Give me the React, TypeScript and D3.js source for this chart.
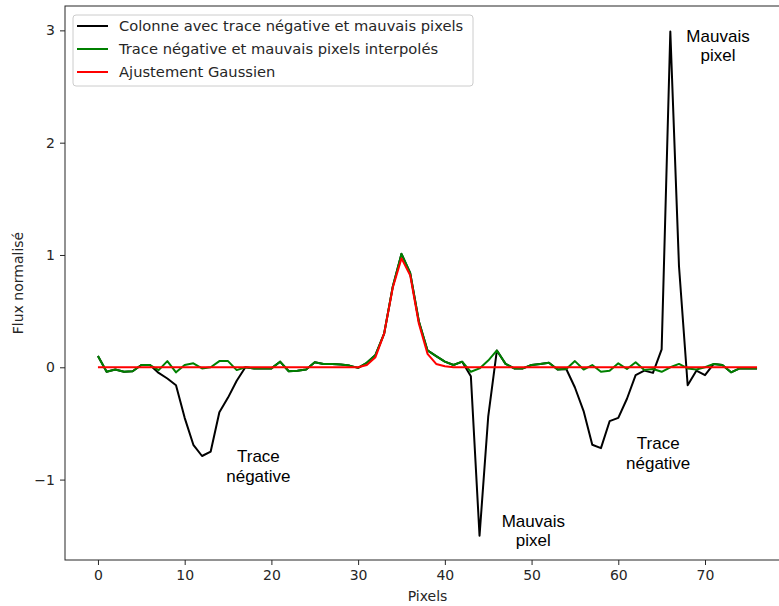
import * as d3 from "d3";
import { useEffect, useRef } from "react";

// pixel index along the column
const pixels = d3.range(0, 77);

// raw column: negative traces and bad pixels
const rawFlux = [
    0.10, -0.04, -0.02, -0.04, -0.035, 0.02, 0.02, -0.05, -0.10, -0.16,
    -0.45, -0.69, -0.79, -0.75, -0.40, -0.27, -0.12, 0.0, -0.01, -0.01,
    -0.01, 0.05, -0.035, -0.03, -0.02, 0.045, 0.03, 0.03, 0.025, 0.015,
    -0.005, 0.04, 0.11, 0.30, 0.72, 1.01, 0.84, 0.41, 0.15, 0.10,
    0.05, 0.02, 0.05, -0.08, -1.50, -0.44, 0.15, 0.03, -0.01, -0.01,
    0.02, 0.03, 0.04, -0.02, -0.015, -0.18, -0.39, -0.69, -0.72, -0.48,
    -0.45, -0.28, -0.07, -0.03, -0.05, 0.16, 2.99, 0.90, -0.16, -0.03,
    -0.07, 0.03, 0.02, -0.045, -0.01, -0.01, -0.01,
];

// interpolated column
const cleanFlux = [
    0.10, -0.04, -0.02, -0.04, -0.035, 0.02, 0.02, -0.025, 0.055, -0.045,
    0.02, 0.035, -0.01, 0.0, 0.055, 0.055, -0.025, 0.0, -0.01, -0.01,
    -0.01, 0.05, -0.035, -0.03, -0.02, 0.045, 0.03, 0.03, 0.025, 0.015,
    -0.005, 0.04, 0.11, 0.30, 0.72, 1.01, 0.84, 0.41, 0.15, 0.10,
    0.05, 0.02, 0.05, -0.04, -0.01, 0.06, 0.15, 0.03, -0.01, -0.01,
    0.02, 0.03, 0.04, -0.02, -0.015, 0.055, -0.02, 0.02, -0.04, -0.03,
    0.035, -0.015, 0.045, -0.025, -0.015, -0.04, 0.0, 0.03, -0.01, -0.02,
    0.0, 0.03, 0.02, -0.045, -0.01, -0.01, -0.01,
];

// gaussian fit
const fitFlux = [
    0, 0, 0, 0, 0, 0, 0, 0, 0, 0,
    0, 0, 0, 0, 0, 0, 0, 0, 0, 0,
    0, 0, 0, 0, 0, 0, 0, 0, 0, 0,
    0.0, 0.02, 0.09, 0.30, 0.71, 0.97, 0.82, 0.39, 0.12, 0.03,
    0.01, 0, 0, 0, 0, 0, 0, 0, 0, 0,
    0, 0, 0, 0, 0, 0, 0, 0, 0, 0,
    0, 0, 0, 0, 0, 0, 0, 0, 0, 0,
    0, 0, 0, 0, 0, 0, 0,
];

const seriesLabels = [
    "Colonne avec trace négative et mauvais pixels",
    "Trace négative et mauvais pixels interpolés",
    "Ajustement Gaussien",
];
const seriesColors = ["#000000", "#008000", "#ff0000"];

const xTicks = [0, 10, 20, 30, 40, 50, 60, 70];
const yTicks = [-1, 0, 1, 2, 3];

// annotation texts, placed in data units (centre x, first baseline y)
const notes = [
    { lines: ["Trace", "négative"], x: 18.5, y: -0.845 },
    { lines: ["Mauvais", "pixel"], x: 50.2, y: -1.418 },
    { lines: ["Trace", "négative"], x: 64.6, y: -0.73 },
    { lines: ["Mauvais", "pixel"], x: 71.5, y: 2.9 },
];

export default function App() {
    const svgRef = useRef<SVGSVGElement | null>(null);

    useEffect(() => {
        if (!svgRef.current) return;
        const svg = d3.select(svgRef.current);
        svg.selectAll("*").remove();

        const totalW = 779;
        const totalH = 606;
        const left = 65, right = 790, top = 6, bottom = 560;
        const font = "DejaVu Sans, sans-serif";
        const ink = "#262626";

        const xScale = d3.scaleLinear().domain([-3.8, 79.8]).range([left, right]);
        const yScale = d3.scaleLinear().domain([-1.716, 3.217]).range([bottom, top]);

        svg.attr("width", totalW).attr("height", totalH);

        const line = d3
            .line<number>()
            .x((d, i) => xScale(pixels[i]))
            .y((d) => yScale(d));

        [rawFlux, cleanFlux, fitFlux].forEach((s, k) => {
            svg.append("path")
                .datum(s)
                .attr("fill", "none")
                .attr("stroke", seriesColors[k])
                .attr("stroke-width", 2)
                .attr("stroke-linejoin", "round")
                .attr("d", line);
        });

        // frame
        svg.append("rect")
            .attr("x", left)
            .attr("y", top)
            .attr("width", right - left)
            .attr("height", bottom - top)
            .attr("fill", "none")
            .attr("stroke", ink)
            .attr("stroke-width", 1);

        const xAxis = svg
            .append("g")
            .attr("transform", `translate(0,${bottom})`)
            .call(d3.axisBottom(xScale).tickValues(xTicks).tickSize(5).tickPadding(5).tickFormat(d3.format("d")));
        const yAxis = svg
            .append("g")
            .attr("transform", `translate(${left},0)`)
            .call(
                d3.axisLeft(yScale).tickValues(yTicks).tickSize(5).tickPadding(5)
                    .tickFormat((d) => (+d < 0 ? "\u2212" + Math.abs(+d) : String(d)))
            );
        [xAxis, yAxis].forEach((ax) => {
            ax.select(".domain").remove();
            ax.selectAll(".tick line").attr("stroke", ink);
            ax.selectAll(".tick text").attr("fill", ink).attr("font-size", 14).attr("font-family", font);
        });

        svg.append("text")
            .attr("x", (left + right) / 2)
            .attr("y", 601)
            .attr("text-anchor", "middle")
            .attr("font-family", font)
            .attr("font-size", 14)
            .attr("fill", ink)
            .text("Pixels");

        svg.append("text")
            .attr("transform", `translate(23,${(top + bottom) / 2}) rotate(-90)`)
            .attr("text-anchor", "middle")
            .attr("font-family", font)
            .attr("font-size", 14)
            .attr("fill", ink)
            .text("Flux normalisé");

        // annotations
        notes.forEach((n) => {
            const t = svg.append("text")
                .attr("text-anchor", "middle")
                .attr("font-family", "Liberation Sans, Arial, sans-serif")
                .attr("font-size", 17)
                .attr("fill", "#000");
            n.lines.forEach((s, i) => {
                t.append("tspan")
                    .attr("x", xScale(n.x))
                    .attr("y", yScale(n.y) + i * 19.5)
                    .text(s);
            });
        });

        // legend
        const lg = svg.append("g").attr("transform", "translate(73,15)");
        lg.append("rect")
            .attr("width", 400)
            .attr("height", 71)
            .attr("rx", 3)
            .attr("fill", "#fff")
            .attr("fill-opacity", 0.8)
            .attr("stroke", "#cccccc");
        seriesLabels.forEach((lab, i) => {
            const y = 11 + i * 23;
            lg.append("line")
                .attr("x1", 4)
                .attr("x2", 35)
                .attr("y1", y)
                .attr("y2", y)
                .attr("stroke", seriesColors[i])
                .attr("stroke-width", 2);
            lg.append("text")
                .attr("x", 46)
                .attr("y", y)
                .attr("dy", "0.35em")
                .attr("font-family", font)
                .attr("font-size", 14.7)
                .attr("fill", ink)
                .text(lab);
        });
    }, []);

    return <svg ref={svgRef} style={{ position: "absolute", left: 0, top: 0 }} />;
}
